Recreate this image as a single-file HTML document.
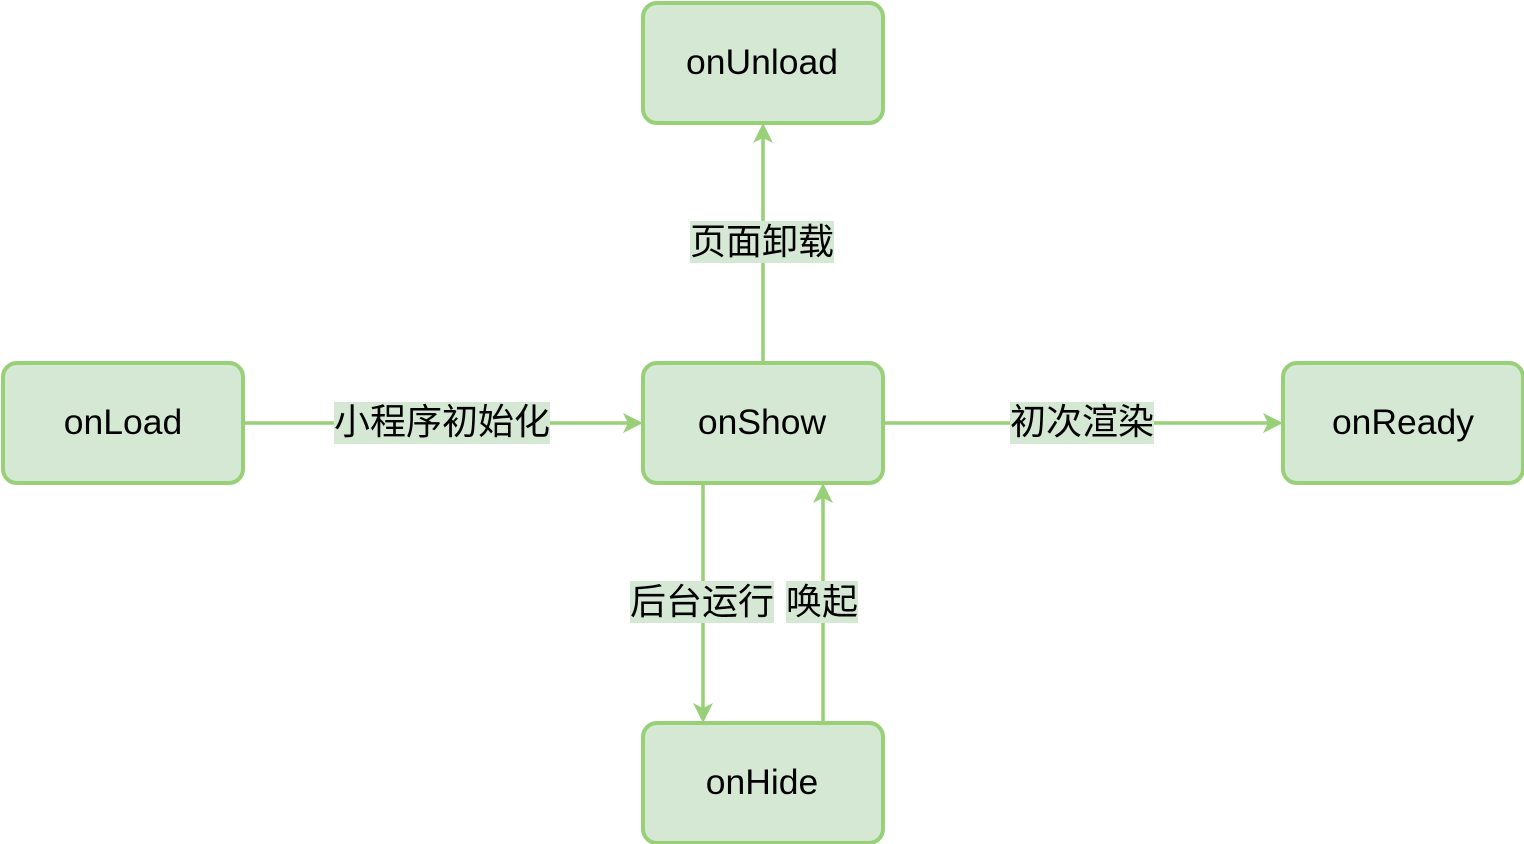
<!DOCTYPE html>
<html><head><meta charset="utf-8"><style>
html,body{margin:0;padding:0;background:#fff;}
svg{display:block;}
text{font-family:"Liberation Sans","Noto Sans CJK SC",sans-serif;fill:#000;}
</style></head><body>
<svg width="1524" height="844" viewBox="0 0 1524 844" xmlns="http://www.w3.org/2000/svg">
<g stroke="#97d077" stroke-width="3.5" fill="none">
<line x1="243" y1="423" x2="630" y2="423"/>
<line x1="883" y1="423" x2="1270" y2="423"/>
<line x1="763" y1="363" x2="763" y2="136"/>
<line x1="703" y1="483" x2="703" y2="710"/>
<line x1="823" y1="723" x2="823" y2="496"/>
</g>
<g fill="#97d077">
<path d="M643,423 L623,413 L628,423 L623,433 Z"/>
<path d="M1283,423 L1263,413 L1268,423 L1263,433 Z"/>
<path d="M763,123 L753,143 L763,138 L773,143 Z"/>
<path d="M703,723 L693,703 L703,708 L713,703 Z"/>
<path d="M823,483 L813,503 L823,498 L833,503 Z"/>
</g>
<g fill="#d5e8d4" stroke="#97d077" stroke-width="4">
<rect x="643" y="3" width="240" height="120" rx="14"/>
<rect x="3" y="363" width="240" height="120" rx="14"/>
<rect x="643" y="363" width="240" height="120" rx="14"/>
<rect x="1283" y="363" width="240" height="120" rx="14"/>
<rect x="643" y="723" width="240" height="120" rx="14"/>
</g>
<g fill="#d5e8d4">
<rect x="334" y="402" width="216" height="42"/>
<rect x="1010" y="402" width="144" height="42"/>
<rect x="690" y="221" width="144" height="42"/>
<rect x="630" y="581" width="144" height="42"/>
<rect x="786" y="581" width="72" height="42"/>
</g>
<g font-size="35.5" text-anchor="middle">
<text x="762" y="74">onUnload</text>
<text x="123" y="434">onLoad</text>
<text x="762" y="434">onShow</text>
<text x="1403" y="434">onReady</text>
<text x="762" y="794">onHide</text>
</g>
<g font-size="36" text-anchor="middle">
<text x="442" y="434">小程序初始化</text>
<text x="1082" y="434">初次渲染</text>
<text x="762" y="254">页面卸载</text>
<text x="702" y="614">后台运行</text>
<text x="822" y="614">唤起</text>
</g>
</svg>
</body></html>
